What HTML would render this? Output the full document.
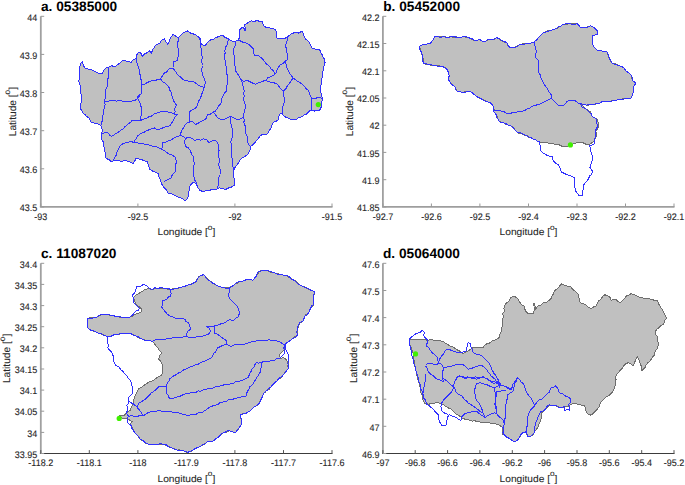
<!DOCTYPE html>
<html><head><meta charset="utf-8"><style>
html,body{margin:0;padding:0;background:#fff;width:685px;height:485px;overflow:hidden}
svg{display:block}
.t{font-family:"Liberation Sans",sans-serif;font-size:9.2px;text-rendering:geometricPrecision;fill:#262626;stroke:#262626;stroke-width:0.1px}
.l{font-family:"Liberation Sans",sans-serif;font-size:10.2px;text-rendering:geometricPrecision;fill:#262626;stroke:#262626;stroke-width:0.08px}
.ti{font-family:"Liberation Sans",sans-serif;font-size:13.7px;text-rendering:geometricPrecision;font-weight:bold;fill:#000}
</style></head><body>
<svg width="685" height="485" viewBox="0 0 685 485">
<rect width="685" height="485" fill="#fff"/>
<line x1="39.9" y1="206.9" x2="332.5" y2="206.9" stroke="#9e9e9e" stroke-width="1.8"/>
<line x1="40.8" y1="16.3" x2="40.8" y2="206.9" stroke="#a0a0a0" stroke-width="1.8"/>
<line x1="40.8" y1="206.9" x2="40.8" y2="203.5" stroke="#999" stroke-width="1"/>
<text transform="translate(40.8 219.8) scale(0.98 1.03)" text-anchor="middle" class="t">-93</text>
<line x1="137.9" y1="206.9" x2="137.9" y2="203.5" stroke="#999" stroke-width="1"/>
<text transform="translate(137.9 219.8) scale(0.98 1.03)" text-anchor="middle" class="t">-92.5</text>
<line x1="234.9" y1="206.9" x2="234.9" y2="203.5" stroke="#999" stroke-width="1"/>
<text transform="translate(234.9 219.8) scale(0.98 1.03)" text-anchor="middle" class="t">-92</text>
<line x1="332.0" y1="206.9" x2="332.0" y2="203.5" stroke="#999" stroke-width="1"/>
<text transform="translate(332.0 219.8) scale(0.98 1.03)" text-anchor="middle" class="t">-91.5</text>
<line x1="40.8" y1="206.9" x2="44.2" y2="206.9" stroke="#999" stroke-width="1"/>
<text transform="translate(37.2 211.1) scale(0.98 1.03)" text-anchor="end" class="t">43.5</text>
<line x1="40.8" y1="168.8" x2="44.2" y2="168.8" stroke="#999" stroke-width="1"/>
<text transform="translate(37.2 173.0) scale(0.98 1.03)" text-anchor="end" class="t">43.6</text>
<line x1="40.8" y1="130.7" x2="44.2" y2="130.7" stroke="#999" stroke-width="1"/>
<text transform="translate(37.2 134.9) scale(0.98 1.03)" text-anchor="end" class="t">43.7</text>
<line x1="40.8" y1="92.5" x2="44.2" y2="92.5" stroke="#999" stroke-width="1"/>
<text transform="translate(37.2 96.7) scale(0.98 1.03)" text-anchor="end" class="t">43.8</text>
<line x1="40.8" y1="54.4" x2="44.2" y2="54.4" stroke="#999" stroke-width="1"/>
<text transform="translate(37.2 58.6) scale(0.98 1.03)" text-anchor="end" class="t">43.9</text>
<line x1="40.8" y1="16.3" x2="44.2" y2="16.3" stroke="#999" stroke-width="1"/>
<text transform="translate(37.2 20.5) scale(0.98 1.03)" text-anchor="end" class="t">44</text>
<text x="41.0" y="11.0" class="ti">a. 05385000</text>
<text transform="translate(186.4 235.1) scale(1 0.95)" text-anchor="middle" class="l">Longitude [<tspan font-size="8.3" dy="-5.6">o</tspan><tspan dy="5.6">]</tspan></text>
<text transform="translate(15.5 111.6) rotate(-90)" text-anchor="middle" class="l">Latitude [<tspan font-size="8.3" dy="-5.4">o</tspan><tspan dy="5.4">]</tspan></text>
<polygon points="80.6,63.5 82.3,62.2 83.5,65.0 84.5,67.9 87.0,68.6 89.5,69.4 91.8,69.8 93.9,70.8 96.8,72.2 99.6,73.7 102.5,73.7 103.2,71.4 104.7,69.4 106.1,67.9 108.3,67.2 111.2,65.8 115.5,66.5 117.9,64.4 120.5,62.8 122.5,60.5 124.8,60.8 127.1,61.1 131.0,62.5 133.0,59.8 136.3,58.5 136.9,54.6 138.9,51.9 140.9,53.3 142.2,56.5 144.8,53.9 147.4,52.6 149.4,50.6 151.4,53.3 152.7,49.3 154.5,47.1 156.0,44.7 159.9,43.4 160.9,41.2 162.6,39.5 164.5,38.8 165.8,41.4 167.8,44.1 169.3,41.2 170.4,38.1 171.8,36.3 172.8,34.2 175.0,35.5 178.3,38.1 181.0,34.9 183.1,33.0 185.6,31.6 187.5,30.9 190.2,32.9 194.1,34.2 196.7,35.5 199.1,37.7 200.3,40.0 200.6,42.7 202.2,44.9 205.3,45.5 207.0,42.9 209.4,40.8 211.3,39.5 213.8,39.2 215.6,37.7 218.0,36.8 220.4,36.0 222.8,35.2 225.1,37.4 228.0,38.7 230.5,40.2 233.1,41.4 235.8,41.2 238.3,40.2 239.4,37.5 239.3,34.6 239.6,32.1 239.9,29.5 241.9,27.5 243.9,28.1 245.2,30.8 245.2,27.8 244.5,24.9 247.8,22.9 251.1,20.9 254.4,21.6 257.0,20.3 259.6,21.6 262.3,21.6 263.6,25.5 266.2,27.5 268.8,27.9 271.5,28.1 275.4,29.5 276.7,32.1 277.0,34.3 276.6,36.6 277.4,38.7 278.0,38.6 282.4,38.6 286.1,37.9 288.5,36.0 291.0,34.2 294.8,32.4 298.5,33.0 302.2,31.1 302.8,32.4 304.0,36.1 305.9,39.2 307.9,40.9 309.6,42.9 310.7,45.3 311.5,47.8 313.6,48.6 315.8,49.1 319.5,49.1 320.7,52.2 322.0,54.6 323.2,57.1 324.6,59.4 325.1,62.1 324.5,64.6 323.8,67.0 323.4,69.5 322.6,72.0 322.8,74.8 322.2,77.4 321.4,80.0 321.4,82.7 320.9,85.4 320.4,88.0 320.2,90.7 321.0,93.4 321.6,96.2 322.6,99.0 321.6,102.2 321.6,105.5 320.5,107.8 319.8,110.2 317.0,110.6 314.2,111.1 311.4,110.5 309.4,111.0 306.3,114.1 304.2,115.0 302.4,116.5 300.2,117.2 298.1,118.0 296.3,119.5 294.0,119.9 291.1,119.6 288.4,118.3 285.7,117.2 283.4,115.4 281.6,113.1 280.0,114.1 278.7,116.5 278.5,119.3 276.2,121.3 273.4,122.4 272.3,124.4 271.6,126.6 270.5,128.7 269.2,130.6 268.1,133.0 266.1,134.7 262.0,134.7 259.9,136.1 258.6,138.1 256.9,139.9 255.5,141.9 253.8,143.5 252.3,145.3 250.3,146.7 250.5,149.0 249.6,151.2 248.3,153.5 246.5,155.4 243.9,156.9 241.4,158.5 239.6,160.2 238.8,162.6 237.3,164.6 235.3,167.0 233.8,169.8 233.5,172.9 233.8,176.0 234.0,178.3 234.4,180.6 234.3,183.0 234.2,185.3 231.1,187.3 228.4,188.0 225.9,189.4 222.8,188.6 219.7,187.9 215.6,189.4 212.4,189.4 209.4,190.4 205.4,191.0 202.2,191.4 199.6,190.0 197.6,187.4 196.6,184.2 193.7,182.2 191.4,184.0 189.7,186.4 189.3,189.5 188.7,192.5 188.5,195.7 187.6,198.7 184.5,200.8 182.7,199.0 180.4,197.7 177.7,196.9 175.2,195.6 172.3,194.1 169.1,193.6 167.3,192.2 166.5,190.0 164.9,188.4 163.1,186.3 161.7,183.9 160.8,181.2 160.0,178.8 158.9,176.5 158.7,174.0 156.8,172.7 154.6,171.9 151.8,170.7 149.4,168.8 148.8,166.4 147.9,164.0 147.4,161.6 144.3,160.7 141.2,159.5 138.6,159.0 136.0,158.5 134.6,161.2 132.9,163.7 130.7,162.2 128.2,161.3 125.7,160.6 123.3,161.0 120.9,161.1 118.5,160.6 116.1,160.8 113.6,160.8 111.3,161.6 109.0,159.6 106.1,158.5 105.3,156.3 105.8,153.8 104.9,151.7 104.6,149.3 104.0,147.1 103.3,144.6 103.3,141.9 101.9,139.5 102.0,136.8 101.4,134.1 102.3,131.3 102.0,128.6 101.1,126.4 99.6,124.2 95.3,123.5 93.1,122.8 91.0,122.0 90.0,119.8 88.8,117.7 86.7,116.6 85.2,114.8 83.0,113.0 81.6,110.5 80.5,108.5 80.2,106.2 80.6,103.8 81.4,101.5 81.6,99.0 81.3,96.1 80.9,93.2 80.3,90.8 80.6,88.4 80.2,86.0 79.6,83.8 78.7,81.6 79.1,79.2 79.5,76.8 79.4,74.4 79.8,71.7 80.0,69.0 79.9,66.2 80.6,63.5" fill="#c0c0c0" stroke="#6e6e6e" stroke-width="1" shape-rendering="crispEdges"/>
<polygon points="80.6,63.5 82.3,62.2 83.5,65.0 84.5,67.9 87.0,68.6 89.5,69.4 91.8,69.8 93.9,70.8 96.8,72.2 99.6,73.7 102.5,73.7 103.2,71.4 104.7,69.4 106.1,67.9 108.3,67.2 111.2,65.8 115.5,66.5 117.9,64.4 120.5,62.8 122.5,60.5 124.8,60.8 127.1,61.1 131.0,62.5 133.0,59.8 136.3,58.5 136.9,54.6 138.9,51.9 140.9,53.3 142.2,56.5 144.8,53.9 147.4,52.6 149.4,50.6 151.4,53.3 152.7,49.3 154.5,47.1 156.0,44.7 159.9,43.4 160.9,41.2 162.6,39.5 164.5,38.8 165.8,41.4 167.8,44.1 169.3,41.2 170.4,38.1 171.8,36.3 172.8,34.2 175.0,35.5 178.3,38.1 181.0,34.9 183.1,33.0 185.6,31.6 187.5,30.9 190.2,32.9 194.1,34.2 196.7,35.5 199.1,37.7 200.3,40.0 200.6,42.7 202.2,44.9 205.3,45.5 207.0,42.9 209.4,40.8 211.3,39.5 213.8,39.2 215.6,37.7 218.0,36.8 220.4,36.0 222.8,35.2 225.1,37.4 228.0,38.7 230.5,40.2 233.1,41.4 235.8,41.2 238.3,40.2 239.4,37.5 239.3,34.6 239.6,32.1 239.9,29.5 241.9,27.5 243.9,28.1 245.2,30.8 245.2,27.8 244.5,24.9 247.8,22.9 251.1,20.9 254.4,21.6 257.0,20.3 259.6,21.6 262.3,21.6 263.6,25.5 266.2,27.5 268.8,27.9 271.5,28.1 275.4,29.5 276.7,32.1 277.0,34.3 276.6,36.6 277.4,38.7 278.0,38.6 282.4,38.6 286.1,37.9 288.5,36.0 291.0,34.2 294.8,32.4 298.5,33.0 302.2,31.1 302.8,32.4 304.0,36.1 305.9,39.2 307.9,40.9 309.6,42.9 310.7,45.3 311.5,47.8 313.6,48.6 315.8,49.1 319.5,49.1 320.7,52.2 322.0,54.6 323.2,57.1 324.6,59.4 325.1,62.1 324.5,64.6 323.8,67.0 323.4,69.5 322.6,72.0 322.8,74.8 322.2,77.4 321.4,80.0 321.4,82.7 320.9,85.4 320.4,88.0 320.2,90.7 321.0,93.4 321.6,96.2 322.6,99.0 321.6,102.2 321.6,105.5 320.5,107.8 319.8,110.2 317.0,110.6 314.2,111.1 311.4,110.5 309.4,111.0 306.3,114.1 304.2,115.0 302.4,116.5 300.2,117.2 298.1,118.0 296.3,119.5 294.0,119.9 291.1,119.6 288.4,118.3 285.7,117.2 283.4,115.4 281.6,113.1 280.0,114.1 278.7,116.5 278.5,119.3 276.2,121.3 273.4,122.4 272.3,124.4 271.6,126.6 270.5,128.7 269.2,130.6 268.1,133.0 266.1,134.7 262.0,134.7 259.9,136.1 258.6,138.1 256.9,139.9 255.5,141.9 253.8,143.5 252.3,145.3 250.3,146.7 250.5,149.0 249.6,151.2 248.3,153.5 246.5,155.4 243.9,156.9 241.4,158.5 239.6,160.2 238.8,162.6 237.3,164.6 235.3,167.0 233.8,169.8 233.5,172.9 233.8,176.0 234.0,178.3 234.4,180.6 234.3,183.0 234.2,185.3 231.1,187.3 228.4,188.0 225.9,189.4 222.8,188.6 219.7,187.9 215.6,189.4 212.4,189.4 209.4,190.4 205.4,191.0 202.2,191.4 199.6,190.0 197.6,187.4 196.6,184.2 193.7,182.2 191.4,184.0 189.7,186.4 189.3,189.5 188.7,192.5 188.5,195.7 187.6,198.7 184.5,200.8 182.7,199.0 180.4,197.7 177.7,196.9 175.2,195.6 172.3,194.1 169.1,193.6 167.3,192.2 166.5,190.0 164.9,188.4 163.1,186.3 161.7,183.9 160.8,181.2 160.0,178.8 158.9,176.5 158.7,174.0 156.8,172.7 154.6,171.9 151.8,170.7 149.4,168.8 148.8,166.4 147.9,164.0 147.4,161.6 144.3,160.7 141.2,159.5 138.6,159.0 136.0,158.5 134.6,161.2 132.9,163.7 130.7,162.2 128.2,161.3 125.7,160.6 123.3,161.0 120.9,161.1 118.5,160.6 116.1,160.8 113.6,160.8 111.3,161.6 109.0,159.6 106.1,158.5 105.3,156.3 105.8,153.8 104.9,151.7 104.6,149.3 104.0,147.1 103.3,144.6 103.3,141.9 101.9,139.5 102.0,136.8 101.4,134.1 102.3,131.3 102.0,128.6 101.1,126.4 99.6,124.2 95.3,123.5 93.1,122.8 91.0,122.0 90.0,119.8 88.8,117.7 86.7,116.6 85.2,114.8 83.0,113.0 81.6,110.5 80.5,108.5 80.2,106.2 80.6,103.8 81.4,101.5 81.6,99.0 81.3,96.1 80.9,93.2 80.3,90.8 80.6,88.4 80.2,86.0 79.6,83.8 78.7,81.6 79.1,79.2 79.5,76.8 79.4,74.4 79.8,71.7 80.0,69.0 79.9,66.2 80.6,63.5" fill="none" stroke="#3030ff" stroke-width="1" shape-rendering="crispEdges"/>
<polyline points="108.3,67.2 108.8,69.6 108.6,72.0 108.6,74.4 108.4,76.9 107.8,79.4 107.9,82.0 107.6,84.5 107.1,86.7 106.1,88.8 105.4,90.9 105.4,93.2 105.5,96.1 105.0,98.9 104.7,101.8 105.1,104.4 104.3,106.9 103.9,109.4 104.0,112.0 103.1,114.8 102.6,117.7 102.5,120.6 101.5,122.6 101.1,124.9" fill="none" stroke="#3030ff" stroke-width="1" shape-rendering="crispEdges"/>
<polyline points="104.7,101.8 108.3,101.8 109.7,100.4 113.0,100.4 116.1,101.1 119.3,100.8 121.6,100.9 123.8,101.2 126.0,102.0 129.0,101.2 132.1,101.1 135.2,100.2 137.7,98.3 138.1,95.9 139.5,94.0" fill="none" stroke="#3030ff" stroke-width="1" shape-rendering="crispEdges"/>
<polyline points="136.0,58.3 136.2,61.2 137.3,63.8 138.1,66.6 139.2,69.2 139.0,72.2 140.2,74.8 140.2,77.7 141.3,80.3 141.8,83.1 142.0,85.7 141.7,88.3 141.9,90.9 141.2,93.4 139.5,96.0 137.7,98.3 138.5,100.5 139.9,102.5 140.5,104.8 141.2,107.1 141.2,109.4 141.4,111.8 141.4,114.1 140.6,117.3 140.5,120.6" fill="none" stroke="#3030ff" stroke-width="1" shape-rendering="crispEdges"/>
<polyline points="141.5,85.2 144.1,84.5 146.4,83.1 149.3,81.5 152.5,80.6 155.2,80.3 157.9,79.7 160.6,79.1 161.7,77.0 163.0,75.0 164.4,73.1 166.7,72.1 167.9,70.0 169.7,68.5 173.0,68.0" fill="none" stroke="#3030ff" stroke-width="1" shape-rendering="crispEdges"/>
<polyline points="178.3,38.1 178.6,40.3 177.6,42.5 177.7,44.7 177.4,46.9 178.4,49.1 178.3,51.3 178.2,53.6 178.3,55.9 177.8,58.2 177.7,60.5 173.7,61.8 173.1,65.7 173.0,68.0" fill="none" stroke="#3030ff" stroke-width="1" shape-rendering="crispEdges"/>
<polyline points="173.0,68.0 174.5,70.1 176.0,72.2 177.1,74.5 178.9,76.0 180.8,77.3 182.4,79.0 184.5,80.1 186.8,80.5 189.1,81.5 191.5,81.4 193.8,82.0 195.7,83.2 197.5,84.6 199.4,85.7 201.7,86.6 204.0,87.5" fill="none" stroke="#3030ff" stroke-width="1" shape-rendering="crispEdges"/>
<polyline points="200.3,38.3 200.5,40.9 200.5,43.5 200.7,46.0 201.2,48.6 201.3,51.1 201.5,53.5 202.0,56.0 202.1,58.5 201.5,61.0 202.2,63.4 202.0,65.6 202.0,67.8 201.6,70.1 202.0,72.3 202.2,74.5 203.6,77.3 204.9,80.1 205.2,82.6 204.8,85.1 204.0,87.5 203.4,90.1 202.3,92.5 201.6,95.0 200.6,97.7 199.2,100.1 198.0,102.7 197.0,105.7 195.4,108.4 193.4,109.4 191.3,110.4 189.7,112.0 189.7,114.6 189.9,117.2 189.3,119.7 189.2,122.3 187.2,122.8 185.1,124.9 183.6,127.5 181.5,131.1 180.7,133.3 181.0,135.7 177.4,136.2 175.3,137.3 173.2,138.3 171.4,139.8 169.1,140.4 167.0,141.4 165.0,142.4 162.7,142.9 162.3,146.2 161.8,149.4" fill="none" stroke="#3030ff" stroke-width="1" shape-rendering="crispEdges"/>
<polyline points="160.6,79.1 162.0,81.0 163.8,82.5 165.9,83.7 167.4,85.5 169.1,87.6 169.7,90.2 171.3,92.3 171.7,95.0 172.7,97.5 173.2,100.2 174.8,102.7 176.3,104.8 175.8,106.9 174.8,108.4 175.1,111.3 174.3,114.1 177.4,114.1 175.3,116.6 174.3,118.7 173.2,120.8 171.7,123.1 170.2,125.4 167.7,126.4 165.0,127.0 162.7,127.9 160.4,129.0 158.1,129.9 154.4,128.0 151.9,128.5 149.6,129.6 147.3,130.5 145.1,131.7 142.2,133.0 139.5,134.5 137.5,136.0 136.6,138.4 134.9,140.1 134.9,142.9" fill="none" stroke="#3030ff" stroke-width="1" shape-rendering="crispEdges"/>
<polyline points="102.4,133.6 105.1,132.7 108.0,132.7 109.4,135.0 111.7,136.4 114.1,134.7 116.5,133.1 119.1,131.7 120.9,130.1 123.1,128.9 124.7,127.0 126.5,125.3 128.3,123.7 130.4,122.4 132.1,120.6 134.9,120.5 137.7,120.9 140.5,120.6 142.5,119.5 144.7,118.9 146.8,118.0 148.8,116.9 151.5,116.2 153.6,114.2 156.2,113.2 158.6,112.2 161.0,111.8 163.6,111.9 165.8,111.5 168.0,112.1 170.2,112.0 172.2,113.1 174.3,114.1" fill="none" stroke="#3030ff" stroke-width="1" shape-rendering="crispEdges"/>
<polyline points="113.6,160.5 114.2,158.1 115.9,156.0 116.5,153.6 117.3,151.2 118.7,149.1 119.7,146.8 121.0,144.7 123.7,143.5 126.4,142.4 129.3,141.9 132.2,141.9 134.9,142.9 137.7,143.0 140.4,143.8 143.2,143.8 145.6,144.9 148.3,144.5 150.7,145.7 153.1,146.4 155.7,146.7 158.1,147.5 161.8,149.4 164.5,150.5 166.7,152.5 169.2,154.0 172.1,155.2 174.8,156.8 175.9,159.3 176.4,162.0 175.8,164.4 175.5,166.9 175.3,169.4 175.2,171.9 173.4,173.5 172.0,175.4 171.1,177.7 169.1,179.1 166.2,180.2 163.9,182.2" fill="none" stroke="#3030ff" stroke-width="1" shape-rendering="crispEdges"/>
<polyline points="228.1,40.2 227.9,42.5 227.2,44.6 226.0,46.5 225.3,48.6 224.9,50.9 225.1,53.2 224.3,55.5 224.4,57.8 225.0,60.1 225.4,62.4 225.7,64.8 226.3,67.1 226.6,69.6 226.2,72.1 227.0,74.5 227.3,76.9 227.4,79.4 227.2,81.9 227.2,84.2 226.6,86.5 226.7,88.9 226.3,91.2 224.8,92.9 223.6,94.8 222.6,96.8 221.7,99.2 221.2,101.7 220.7,104.2 218.8,105.7 217.7,107.8 216.3,109.6 215.0,111.5 213.5,112.0 210.4,114.1 207.3,115.1 206.8,117.2 205.2,119.7 202.6,120.6 200.1,121.8 198.0,123.5 195.4,124.4 192.3,121.3 189.2,122.3" fill="none" stroke="#3030ff" stroke-width="1" shape-rendering="crispEdges"/>
<polyline points="213.5,112.5 215.6,114.9 217.2,117.6 221.1,119.6 223.6,119.3 226.0,118.6 229.9,116.6 232.5,117.2 234.8,118.6 238.7,119.6 241.0,118.3 243.6,117.6" fill="none" stroke="#3030ff" stroke-width="1" shape-rendering="crispEdges"/>
<polyline points="235.5,41.1 235.4,43.5 235.0,45.8 234.0,48.1 233.7,50.4 233.4,53.0 234.2,55.6 234.8,58.2 234.1,60.8 234.6,63.4 235.0,65.7 235.0,68.2 235.5,70.5 236.5,72.7 238.2,74.8 239.5,77.2 241.0,79.4 242.0,81.9 242.4,84.5 243.6,86.8 243.9,89.4 244.2,91.6 243.5,93.8 244.4,96.1 243.5,98.3 243.9,100.5 244.6,103.4 245.8,106.1 245.1,108.5 244.3,111.0 243.9,113.5 243.6,117.6 244.2,119.9 243.9,122.4 244.7,124.7 245.7,127.0 245.6,129.4 245.6,131.9 246.1,134.3 247.5,136.6 247.5,139.1 247.7,141.5 248.3,143.8 249.5,146.0" fill="none" stroke="#3030ff" stroke-width="1" shape-rendering="crispEdges"/>
<polyline points="229.9,116.6 230.3,119.3 230.5,122.1 231.3,124.7 231.9,127.4 232.3,129.6 232.4,131.8 232.8,134.0 232.8,136.2 231.4,139.0 230.9,142.1 231.2,144.6 231.4,147.2 231.2,149.7 231.6,152.2 231.3,154.8 231.9,157.1 232.1,159.4 232.6,161.8 232.2,164.2 232.8,166.5 233.8,169.8" fill="none" stroke="#3030ff" stroke-width="1" shape-rendering="crispEdges"/>
<polyline points="181.0,135.7 183.6,136.5 185.6,138.3 188.7,137.3 191.8,138.3 194.9,140.4 198.0,139.3 200.6,140.4 203.1,138.8 206.2,139.3 207.8,141.1 209.3,142.9 211.1,141.2 213.5,140.4 215.0,140.4 216.9,142.0 218.2,144.0 218.8,146.3 218.6,148.6 219.1,150.9 218.6,153.2 218.9,155.6 218.9,157.9 219.6,160.3 219.1,162.6 218.8,165.1 219.5,167.5 220.4,169.9 220.1,172.4 220.0,174.8 218.9,177.0 218.2,179.3 218.4,181.8 218.5,184.2 217.7,186.7 218.2,189.1" fill="none" stroke="#3030ff" stroke-width="1" shape-rendering="crispEdges"/>
<polyline points="185.6,138.3 184.6,141.4 185.1,145.0 186.3,147.0 188.5,148.0 189.8,149.9 190.9,152.3 191.9,154.8 193.7,156.8 193.2,159.1 194.0,161.5 194.2,163.8 193.7,166.2 193.7,168.5 194.0,170.8 193.9,173.2 193.8,175.6 194.3,177.9 194.7,180.2 196.1,182.0 196.6,184.2" fill="none" stroke="#3030ff" stroke-width="1" shape-rendering="crispEdges"/>
<polyline points="240.0,79.5 243.7,81.4 247.4,80.5 251.1,82.3 253.4,83.4 255.8,84.2 258.0,83.1 260.4,82.3 263.1,81.1 266.0,80.5 267.8,77.7 270.5,76.8 273.0,75.6 275.3,74.0" fill="none" stroke="#3030ff" stroke-width="1" shape-rendering="crispEdges"/>
<polyline points="238.8,39.8 240.8,41.3 243.0,42.2 245.5,42.7 247.6,43.9 249.8,45.1 251.4,47.0 253.2,48.6 253.8,51.8 254.1,55.0 256.4,55.5 258.7,56.0 260.8,57.3 262.6,59.0 264.1,61.0 265.6,63.2 267.6,64.9 269.7,66.5 270.8,68.6 272.7,70.1 274.0,72.1 275.3,74.0" fill="none" stroke="#3030ff" stroke-width="1" shape-rendering="crispEdges"/>
<polyline points="275.3,74.0 276.6,71.5 277.2,68.7 279.0,66.5 280.6,64.6 282.8,63.6 284.5,61.9 287.3,59.6 287.9,55.9 286.7,52.2 286.5,49.0 285.5,46.0 286.7,42.3 287.2,39.8 287.9,37.3 288.5,36.0" fill="none" stroke="#3030ff" stroke-width="1" shape-rendering="crispEdges"/>
<polyline points="266.0,80.5 268.6,81.8 271.5,82.3 274.4,82.9 277.1,84.2 278.7,85.9 279.9,87.9 281.4,89.8 283.6,90.7 285.9,88.7 287.3,86.0 288.8,84.0 290.4,82.0 291.8,80.0 292.9,77.7 291.6,75.8 290.1,74.0 288.4,71.3 287.3,68.4 286.2,66.4 286.0,64.1 285.5,61.9" fill="none" stroke="#3030ff" stroke-width="1" shape-rendering="crispEdges"/>
<polyline points="292.9,77.7 294.9,79.4 297.1,81.0 299.4,82.3 301.5,83.6 303.2,85.4 305.0,87.0 306.5,89.2 308.7,90.7 309.3,93.3 310.4,95.7 311.4,98.1 311.4,99.0" fill="none" stroke="#3030ff" stroke-width="1" shape-rendering="crispEdges"/>
<polyline points="283.6,90.7 283.3,93.0 283.6,95.4 284.1,97.7 284.0,100.0 284.3,102.4 283.3,104.6 282.9,106.9 283.0,109.2 282.6,111.6 281.8,114.0" fill="none" stroke="#3030ff" stroke-width="1" shape-rendering="crispEdges"/>
<polyline points="311.4,99.0 311.0,101.2 311.5,103.5 311.9,105.7 311.5,108.0 311.4,110.2 314.2,111.1 316.9,110.3 319.8,110.2 321.2,108.0 321.6,105.5 321.7,102.2 322.6,99.0 319.8,97.2 316.1,98.1 313.7,98.3 311.4,99.0" fill="none" stroke="#3030ff" stroke-width="1" shape-rendering="crispEdges"/>
<circle cx="318.3" cy="104.6" r="2.6" fill="#40f000"/>
<line x1="382.0" y1="206.9" x2="674.5" y2="206.9" stroke="#9e9e9e" stroke-width="1.8"/>
<line x1="382.9" y1="16.3" x2="382.9" y2="206.9" stroke="#a0a0a0" stroke-width="1.8"/>
<line x1="382.9" y1="206.9" x2="382.9" y2="203.5" stroke="#999" stroke-width="1"/>
<text transform="translate(382.9 219.8) scale(0.98 1.03)" text-anchor="middle" class="t">-92.7</text>
<line x1="431.4" y1="206.9" x2="431.4" y2="203.5" stroke="#999" stroke-width="1"/>
<text transform="translate(431.4 219.8) scale(0.98 1.03)" text-anchor="middle" class="t">-92.6</text>
<line x1="479.9" y1="206.9" x2="479.9" y2="203.5" stroke="#999" stroke-width="1"/>
<text transform="translate(479.9 219.8) scale(0.98 1.03)" text-anchor="middle" class="t">-92.5</text>
<line x1="528.5" y1="206.9" x2="528.5" y2="203.5" stroke="#999" stroke-width="1"/>
<text transform="translate(528.5 219.8) scale(0.98 1.03)" text-anchor="middle" class="t">-92.4</text>
<line x1="577.0" y1="206.9" x2="577.0" y2="203.5" stroke="#999" stroke-width="1"/>
<text transform="translate(577.0 219.8) scale(0.98 1.03)" text-anchor="middle" class="t">-92.3</text>
<line x1="625.5" y1="206.9" x2="625.5" y2="203.5" stroke="#999" stroke-width="1"/>
<text transform="translate(625.5 219.8) scale(0.98 1.03)" text-anchor="middle" class="t">-92.2</text>
<line x1="674.0" y1="206.9" x2="674.0" y2="203.5" stroke="#999" stroke-width="1"/>
<text transform="translate(674.0 219.8) scale(0.98 1.03)" text-anchor="middle" class="t">-92.1</text>
<line x1="382.9" y1="206.9" x2="386.3" y2="206.9" stroke="#999" stroke-width="1"/>
<text transform="translate(379.5 211.1) scale(0.98 1.03)" text-anchor="end" class="t">41.85</text>
<line x1="382.9" y1="179.7" x2="386.3" y2="179.7" stroke="#999" stroke-width="1"/>
<text transform="translate(379.5 183.9) scale(0.98 1.03)" text-anchor="end" class="t">41.9</text>
<line x1="382.9" y1="152.4" x2="386.3" y2="152.4" stroke="#999" stroke-width="1"/>
<text transform="translate(379.5 156.6) scale(0.98 1.03)" text-anchor="end" class="t">41.95</text>
<line x1="382.9" y1="125.2" x2="386.3" y2="125.2" stroke="#999" stroke-width="1"/>
<text transform="translate(379.5 129.4) scale(0.98 1.03)" text-anchor="end" class="t">42</text>
<line x1="382.9" y1="98.0" x2="386.3" y2="98.0" stroke="#999" stroke-width="1"/>
<text transform="translate(379.5 102.2) scale(0.98 1.03)" text-anchor="end" class="t">42.05</text>
<line x1="382.9" y1="70.8" x2="386.3" y2="70.8" stroke="#999" stroke-width="1"/>
<text transform="translate(379.5 75.0) scale(0.98 1.03)" text-anchor="end" class="t">42.1</text>
<line x1="382.9" y1="43.5" x2="386.3" y2="43.5" stroke="#999" stroke-width="1"/>
<text transform="translate(379.5 47.7) scale(0.98 1.03)" text-anchor="end" class="t">42.15</text>
<line x1="382.9" y1="16.3" x2="386.3" y2="16.3" stroke="#999" stroke-width="1"/>
<text transform="translate(379.5 20.5) scale(0.98 1.03)" text-anchor="end" class="t">42.2</text>
<text x="383.2" y="11.0" class="ti">b. 05452000</text>
<text transform="translate(528.5 235.1) scale(1 0.95)" text-anchor="middle" class="l">Longitude [<tspan font-size="8.3" dy="-5.6">o</tspan><tspan dy="5.6">]</tspan></text>
<text transform="translate(352.8 111.6) rotate(-90)" text-anchor="middle" class="l">Latitude [<tspan font-size="8.3" dy="-5.4">o</tspan><tspan dy="5.4">]</tspan></text>
<polygon points="419.3,46.4 422.4,44.9 425.0,44.4 427.5,43.9 429.8,43.3 431.7,41.8 433.3,39.3 434.8,36.7 437.5,37.0 440.3,36.4 443.0,36.7 445.8,37.0 448.5,37.1 451.3,36.7 454.0,37.6 456.8,36.9 459.5,37.7 463.7,36.7 466.7,37.6 469.8,38.1 472.3,39.6 475.0,40.8 477.6,40.1 480.2,39.8 483.3,41.8 486.1,41.0 488.4,39.3 492.5,39.8 494.8,39.1 496.7,37.7 499.3,39.2 501.8,40.8 504.2,42.3 507.0,42.9 508.1,45.7 510.1,48.0 514.2,47.6 516.9,46.4 519.4,44.9 522.4,44.0 525.6,43.9 528.7,43.7 531.7,42.9 534.1,41.8 536.5,40.1 538.2,37.7 540.3,35.6 542.4,33.5 544.4,32.5 547.3,31.0 550.6,30.4 553.8,29.6 556.8,28.4 559.0,27.2 561.2,26.1 563.0,24.3 566.1,24.5 569.1,23.7 571.9,23.1 574.6,23.3 577.4,23.7 578.7,25.8 580.5,27.4 583.0,27.7 585.6,27.4 588.2,26.6 590.8,25.7 593.9,27.4 597.0,30.4 597.0,34.6 592.8,35.6 592.5,38.1 592.2,40.7 592.5,43.9 593.9,46.9 596.9,50.0 599.5,50.6 602.1,51.0 604.7,51.4 607.2,52.1 608.1,55.3 609.3,58.3 610.6,61.0 612.4,63.4 615.7,63.9 618.6,65.5 621.1,66.7 623.7,67.5 624.8,69.9 626.8,71.6 629.0,72.9 630.9,74.7 631.5,78.0 633.0,80.9 636.1,83.0 634.0,86.1 633.1,88.4 633.9,91.0 633.0,93.3 632.1,95.9 630.9,98.4 626.8,98.4 623.7,98.6 620.6,99.4 617.5,99.8 614.4,100.5 611.3,101.0 608.3,101.5 605.2,101.3 602.1,101.5 600.2,102.8 598.0,103.6 594.9,104.2 591.8,104.6 589.1,105.0 586.3,105.0 583.6,104.6 580.5,103.6 582.1,104.3 583.4,106.5 585.2,108.4 587.7,110.2 590.4,111.5 591.0,114.3 592.5,116.7 595.1,118.2 597.6,119.8 598.3,122.9 598.7,126.0 597.5,128.8 595.6,131.1 596.5,133.6 596.6,136.3 595.2,138.7 594.5,141.4 591.8,142.8 589.4,144.5 586.2,144.3 583.2,142.9 580.1,142.1 577.0,142.5 574.0,143.9 570.8,144.5 567.9,146.0 564.6,146.6 561.4,146.0 558.4,144.5 555.2,144.4 552.2,143.5 549.1,143.3 546.0,142.5 542.9,142.3 539.8,142.0 537.7,141.3 535.9,139.9 533.7,139.4 531.8,137.9 529.3,137.7 527.7,135.9 525.4,135.2 523.2,134.7 521.3,133.4 519.0,133.3 517.1,132.1 515.2,130.0 513.3,127.7 511.0,126.0 508.6,125.4 506.4,124.5 504.3,123.1 502.0,122.2 499.6,121.8 498.5,119.8 497.6,117.6 496.5,115.6 495.2,113.4 493.4,111.5 494.1,109.2 493.6,106.8 491.5,103.7 489.4,102.7 487.4,101.7 485.0,100.3 482.2,99.6 480.2,98.4 478.1,97.5 476.1,95.9 474.0,94.4 472.0,92.7 469.8,91.4 467.4,91.5 464.9,91.5 462.6,92.4 459.5,91.5 456.4,90.9 455.7,88.4 454.4,86.2 451.3,84.1 449.9,81.5 448.2,79.0 449.2,75.9 448.6,72.6 447.1,69.7 445.4,67.7 443.0,66.6 440.3,66.0 437.6,65.8 434.8,65.6 431.6,65.4 428.6,64.5 426.0,64.2 423.4,63.5 423.4,60.4 422.8,57.3 422.0,54.7 421.3,52.1 420.6,49.1 419.3,46.4" fill="#c0c0c0" stroke="#6e6e6e" stroke-width="1" shape-rendering="crispEdges"/>
<polyline points="539.8,142.0 537.7,141.4 535.9,139.9 533.7,139.4 531.7,138.1 529.6,137.3 527.5,136.2 525.4,135.2 523.4,134.3 521.4,133.2 519.3,132.5 517.1,132.1 515.1,130.1 513.3,127.8 511.0,126.0 508.6,125.5 506.5,124.0 504.3,123.2 502.0,122.4 499.6,121.8 498.4,119.8 497.0,117.9 496.5,115.6 495.4,113.2 493.4,111.5 493.7,109.2 493.6,106.8 491.5,103.7 489.6,102.5 487.4,101.7 484.7,100.9 482.2,99.6 480.3,98.2 478.1,97.5 476.0,96.0 474.0,94.4 472.2,92.5 469.8,91.4 467.4,91.5 465.1,92.5 462.6,92.4 459.5,91.5 456.4,90.9 455.6,88.5 454.4,86.2 451.3,84.1 449.6,81.7 448.2,79.0 449.2,75.9 448.6,72.7 447.1,69.7 445.2,68.0 443.0,66.6 440.3,66.2 437.5,66.2 434.8,65.6 431.7,65.0 428.6,64.5 426.1,63.7 423.4,63.5 422.8,60.4 422.8,57.3 422.3,54.6 421.3,52.1 419.8,49.4 419.3,46.4 422.4,44.9 425.0,44.8 427.5,43.9 429.9,43.4 431.7,41.8 433.3,39.3 434.8,36.7 437.5,36.4 440.3,37.3 443.0,36.7 445.8,37.2 448.5,37.3 451.3,36.7 454.1,36.5 456.8,37.5 459.5,37.7 463.7,36.7 466.8,37.0 469.8,38.1 472.6,39.0 475.0,40.8 477.6,40.1 480.2,39.8 483.3,41.8 486.0,40.9 488.4,39.3 492.5,39.8 494.6,38.7 496.7,37.7 499.5,38.8 501.8,40.8 504.5,41.5 507.0,42.9 508.3,45.6 510.1,48.0 514.2,47.6 517.0,46.6 519.4,44.9 522.5,44.5 525.6,43.9 528.7,43.4 531.7,42.9 534.1,41.8 536.5,40.1 538.2,37.7 540.5,35.8 542.4,33.5 544.4,32.5 547.5,31.4 550.6,30.4 553.7,29.3 556.8,28.4 558.6,26.6 561.2,26.1 563.0,24.3 566.0,23.8 569.1,23.7 571.9,24.2 574.6,24.3 577.4,23.7 579.1,25.4 580.5,27.4 583.0,27.0 585.6,27.4 588.3,27.0 590.8,25.7 593.9,27.4 597.0,30.4 597.0,34.6 592.8,35.6 592.5,38.2 592.2,40.7 592.6,43.9 593.9,46.9 596.9,50.0 599.5,50.3 602.1,51.0 604.6,51.7 607.2,52.1 608.6,55.1 609.3,58.3 610.9,60.8 612.4,63.4 615.5,64.4 618.6,65.5 621.1,66.5 623.7,67.5 625.1,69.7 626.8,71.6 629.1,72.9 630.9,74.7 632.4,77.7 633.0,80.9 636.1,83.0 634.0,86.1 633.7,88.5 633.2,90.9 633.0,93.3 632.1,95.9 630.9,98.4 626.8,98.4 623.7,99.0 620.6,99.4 617.5,99.8 614.4,100.5 611.4,101.1 608.3,101.5 605.2,101.1 602.1,101.5 600.2,102.9 598.0,103.6 594.9,104.1 591.8,104.6 589.1,104.6 586.3,105.1 583.6,104.6 580.5,103.6 581.5,106.7 583.6,107.7 585.6,108.7 588.7,111.8 591.0,113.5 592.5,116.7 594.8,117.9 596.6,119.8 596.7,123.0 597.6,126.0 596.6,128.7 595.0,131.1 595.1,133.7 595.6,136.3 594.6,138.8 594.5,141.4 594.5,143.5" fill="none" stroke="#3030ff" stroke-width="1" shape-rendering="crispEdges"/>
<polyline points="539.8,142.0 540.0,144.9 540.3,147.8 540.9,150.7 543.2,153.1 546.0,154.8 549.1,156.0 552.2,156.9 553.3,161.0 555.6,163.2 558.3,164.6 559.7,166.8 560.2,169.3 561.6,172.1 564.2,173.3 566.7,174.8 569.5,175.3 571.9,176.7 574.6,177.6 574.5,180.9 574.9,184.1 574.9,186.9 575.2,189.7 576.1,191.7 577.6,193.5 578.8,195.3 582.5,195.3 582.4,192.9 582.9,190.6 583.7,187.9 583.4,185.0 585.0,183.2 586.6,181.4 588.0,179.5 589.9,175.8 591.8,174.0 592.7,171.6 591.5,169.6 589.9,167.9 590.8,164.6 591.4,163.1 592.2,160.8 592.7,158.4 592.5,155.9 591.4,153.3 590.4,150.7 590.4,148.1 589.4,145.6 592.2,145.1 594.5,143.5" fill="none" stroke="#3030ff" stroke-width="1" shape-rendering="crispEdges"/>
<polyline points="534.1,41.8 535.1,45.9 535.9,48.9 536.2,52.1 535.1,56.2 536.3,58.5 538.2,60.3 538.4,62.8 538.0,65.3 538.9,67.7 538.4,70.2 538.7,72.7 540.1,74.5 540.5,76.8 541.2,79.0 542.4,80.9 543.5,83.1 544.8,85.2 546.3,87.1 547.5,89.2 548.5,91.5 550.3,93.2 551.6,95.3 551.6,98.4" fill="none" stroke="#3030ff" stroke-width="1" shape-rendering="crispEdges"/>
<polyline points="493.6,110.0 496.0,110.5 498.4,110.5 500.8,111.0 503.7,111.5 506.2,113.1 509.0,114.0 511.7,112.9 514.5,112.7 517.3,112.0 520.1,111.5 522.9,111.0 525.6,110.0 527.4,108.5 529.9,108.4 531.5,106.4 533.8,105.8 536.5,105.0 539.3,104.5 541.9,103.3 544.2,101.8 546.6,100.6 549.1,99.4 551.6,98.4" fill="none" stroke="#3030ff" stroke-width="1" shape-rendering="crispEdges"/>
<polyline points="551.6,98.4 554.7,101.5 556.6,103.7 558.8,105.6 563.0,105.6 565.5,103.7 567.1,101.1 569.5,100.9 571.9,100.5 574.3,100.5 576.4,101.4 578.2,103.0 580.5,103.6" fill="none" stroke="#3030ff" stroke-width="1" shape-rendering="crispEdges"/>
<circle cx="570.4" cy="144.9" r="2.6" fill="#40f000"/>
<line x1="39.9" y1="453.5" x2="332.5" y2="453.5" stroke="#3c3c3c" stroke-width="1"/>
<line x1="40.8" y1="263.3" x2="40.8" y2="453.5" stroke="#a0a0a0" stroke-width="1.8"/>
<line x1="40.8" y1="453.5" x2="40.8" y2="450.1" stroke="#555" stroke-width="1"/>
<text transform="translate(40.8 466.4) scale(0.98 1.03)" text-anchor="middle" class="t">-118.2</text>
<line x1="89.3" y1="453.5" x2="89.3" y2="450.1" stroke="#555" stroke-width="1"/>
<text transform="translate(89.3 466.4) scale(0.98 1.03)" text-anchor="middle" class="t">-118.1</text>
<line x1="137.9" y1="453.5" x2="137.9" y2="450.1" stroke="#555" stroke-width="1"/>
<text transform="translate(137.9 466.4) scale(0.98 1.03)" text-anchor="middle" class="t">-118</text>
<line x1="186.4" y1="453.5" x2="186.4" y2="450.1" stroke="#555" stroke-width="1"/>
<text transform="translate(186.4 466.4) scale(0.98 1.03)" text-anchor="middle" class="t">-117.9</text>
<line x1="234.9" y1="453.5" x2="234.9" y2="450.1" stroke="#555" stroke-width="1"/>
<text transform="translate(234.9 466.4) scale(0.98 1.03)" text-anchor="middle" class="t">-117.8</text>
<line x1="283.5" y1="453.5" x2="283.5" y2="450.1" stroke="#555" stroke-width="1"/>
<text transform="translate(283.5 466.4) scale(0.98 1.03)" text-anchor="middle" class="t">-117.7</text>
<line x1="332.0" y1="453.5" x2="332.0" y2="450.1" stroke="#555" stroke-width="1"/>
<text transform="translate(332.0 466.4) scale(0.98 1.03)" text-anchor="middle" class="t">-117.6</text>
<line x1="40.8" y1="453.5" x2="44.2" y2="453.5" stroke="#999" stroke-width="1"/>
<text transform="translate(37.2 457.7) scale(0.98 1.03)" text-anchor="end" class="t">33.95</text>
<line x1="40.8" y1="432.4" x2="44.2" y2="432.4" stroke="#999" stroke-width="1"/>
<text transform="translate(37.2 436.6) scale(0.98 1.03)" text-anchor="end" class="t">34</text>
<line x1="40.8" y1="411.2" x2="44.2" y2="411.2" stroke="#999" stroke-width="1"/>
<text transform="translate(37.2 415.4) scale(0.98 1.03)" text-anchor="end" class="t">34.05</text>
<line x1="40.8" y1="390.1" x2="44.2" y2="390.1" stroke="#999" stroke-width="1"/>
<text transform="translate(37.2 394.3) scale(0.98 1.03)" text-anchor="end" class="t">34.1</text>
<line x1="40.8" y1="369.0" x2="44.2" y2="369.0" stroke="#999" stroke-width="1"/>
<text transform="translate(37.2 373.2) scale(0.98 1.03)" text-anchor="end" class="t">34.15</text>
<line x1="40.8" y1="347.8" x2="44.2" y2="347.8" stroke="#999" stroke-width="1"/>
<text transform="translate(37.2 352.0) scale(0.98 1.03)" text-anchor="end" class="t">34.2</text>
<line x1="40.8" y1="326.7" x2="44.2" y2="326.7" stroke="#999" stroke-width="1"/>
<text transform="translate(37.2 330.9) scale(0.98 1.03)" text-anchor="end" class="t">34.25</text>
<line x1="40.8" y1="305.6" x2="44.2" y2="305.6" stroke="#999" stroke-width="1"/>
<text transform="translate(37.2 309.8) scale(0.98 1.03)" text-anchor="end" class="t">34.3</text>
<line x1="40.8" y1="284.4" x2="44.2" y2="284.4" stroke="#999" stroke-width="1"/>
<text transform="translate(37.2 288.6) scale(0.98 1.03)" text-anchor="end" class="t">34.35</text>
<line x1="40.8" y1="263.3" x2="44.2" y2="263.3" stroke="#999" stroke-width="1"/>
<text transform="translate(37.2 267.5) scale(0.98 1.03)" text-anchor="end" class="t">34.4</text>
<text x="41.0" y="257.7" class="ti">c. 11087020</text>
<text transform="translate(186.4 481.7) scale(1 0.95)" text-anchor="middle" class="l">Longitude [<tspan font-size="8.3" dy="-5.6">o</tspan><tspan dy="5.6">]</tspan></text>
<text transform="translate(10.2 358.4) rotate(-90)" text-anchor="middle" class="l">Latitude [<tspan font-size="8.3" dy="-5.4">o</tspan><tspan dy="5.4">]</tspan></text>
<polygon points="87.4,318.2 89.7,317.9 92.1,318.0 94.4,317.7 96.7,317.3 99.0,315.8 101.3,314.5 104.5,314.1 107.8,314.5 110.2,315.4 112.9,315.3 115.3,316.4 117.8,316.1 120.2,317.4 122.7,317.3 125.0,317.9 127.2,317.9 129.5,317.3 131.9,316.3 134.1,315.0 136.2,313.8 138.6,313.2 141.8,311.8 141.3,308.6 139.5,306.8 136.8,305.0 135.0,302.3 134.5,300.0 133.2,297.8 135.0,295.9 137.7,294.1 141.3,291.9 144.9,289.6 148.6,288.7 152.2,289.6 155.0,288.8 157.9,288.2 160.4,288.6 162.8,288.9 165.3,288.6 168.1,289.3 170.9,289.5 173.6,288.7 176.5,288.6 179.0,288.1 181.4,287.2 183.9,286.7 186.9,285.4 190.0,284.6 191.9,283.1 194.4,283.0 196.2,281.5 197.3,278.6 199.3,276.3 201.6,275.7 203.4,274.3 205.3,276.1 206.5,278.4 208.7,279.7 210.6,281.5 212.8,282.7 214.7,284.3 216.8,285.6 219.9,286.5 223.0,287.7 226.1,287.5 229.2,288.1 230.9,286.3 233.3,285.6 235.1,283.8 237.6,283.1 239.5,281.5 242.7,281.1 245.7,279.9 248.3,279.6 250.9,279.4 252.9,280.5 255.0,277.4 256.3,275.3 258.1,273.5 259.1,271.2 261.8,270.5 264.6,270.9 267.4,270.6 269.7,271.8 272.1,272.5 274.6,272.8 277.7,273.8 280.8,274.3 283.8,275.3 287.0,275.3 288.8,277.2 291.2,278.3 293.2,279.9 295.6,281.0 297.4,282.9 299.4,284.6 301.3,285.9 303.7,286.3 305.6,287.7 307.7,288.7 309.7,289.8 312.3,290.8 314.8,291.8 314.1,294.9 313.4,298.0 313.5,301.1 313.8,304.2 312.5,306.5 310.7,308.3 309.7,310.4 308.7,312.5 306.3,314.3 304.5,316.6 303.5,320.7 301.6,322.1 299.4,322.8 298.8,326.0 297.3,329.0 297.8,332.1 297.3,335.2 295.1,336.6 293.2,338.3 290.7,340.0 288.7,341.4 286.9,343.0 285.0,344.5 284.7,347.4 283.9,350.2 281.5,352.3 279.4,354.7 280.5,358.1 282.8,357.9 285.0,358.1 287.3,361.5 288.1,363.7 287.9,366.1 288.5,368.4 287.0,370.3 285.3,372.0 283.9,374.0 282.2,375.7 280.8,377.7 278.9,379.2 277.1,380.8 275.5,382.6 273.7,384.2 272.1,386.0 270.3,387.6 269.0,389.5 266.7,390.2 265.5,392.2 263.5,393.3 262.7,396.3 261.2,399.0 260.0,401.2 259.0,403.5 257.0,405.6 254.4,406.9 252.1,409.1 249.9,411.4 247.5,412.3 245.4,413.7 243.0,413.7 240.8,414.8 240.6,417.1 241.0,419.4 241.1,421.7 242.0,423.9 240.0,426.0 238.6,428.5 237.2,431.0 235.2,433.0 232.4,431.8 229.5,430.7 227.4,432.0 225.1,432.7 222.7,433.0 221.3,434.8 219.3,436.0 217.6,437.5 215.5,438.9 213.6,440.5 211.4,441.7 208.8,441.2 206.5,442.4 204.5,444.0 202.3,445.3 200.0,446.5 197.6,447.6 195.3,448.8 193.0,450.2 190.6,451.8 187.8,452.2 184.3,451.0 182.0,450.4 179.7,449.9 177.3,450.1 175.0,449.1 172.6,448.3 170.3,447.4 168.3,446.1 166.0,445.5 164.1,444.0 161.7,444.2 159.3,444.5 156.9,445.0 154.5,444.8 152.2,444.4 149.8,444.4 147.5,444.0 145.0,442.8 143.0,440.8 140.5,439.5 138.9,437.3 137.1,435.2 135.3,433.2 134.0,431.4 132.7,428.8 131.7,426.0 130.2,423.9 132.4,421.7 128.8,419.5 127.3,418.5 124.8,418.5 122.3,418.1 120.1,415.8 124.4,415.2 126.6,413.1 128.3,411.6 130.2,410.2 131.5,407.2 133.1,404.4 133.8,402.1 133.7,399.7 134.8,397.5 135.1,395.2 136.6,393.4 137.5,391.2 138.2,389.0 140.8,387.6 143.3,386.0 145.2,384.3 147.3,383.1 149.5,381.8 151.8,381.2 153.8,380.1 155.7,378.7 157.6,377.1 160.0,376.2 161.9,374.6 162.2,372.0 162.9,369.4 162.3,366.4 161.9,363.3 160.5,361.1 158.8,359.1 159.8,355.0 161.6,353.5 160.7,351.4 159.0,349.9 157.9,347.9 155.9,345.7 154.2,343.3 152.4,341.4 150.1,340.8 147.8,340.4 145.4,340.0 143.1,339.6 140.6,338.5 138.0,337.5 135.7,335.9 133.4,334.5 130.7,334.0 128.2,333.1 126.0,333.3 123.8,333.7 121.5,333.3 119.4,334.3 117.1,334.0 114.6,334.2 112.5,335.4 110.2,336.4 107.8,336.8 105.5,335.8 103.4,334.5 100.9,334.1 98.6,333.1 96.1,332.2 93.6,331.2 91.1,330.3 89.0,329.2 87.4,327.5 87.5,325.2 87.0,322.9 87.4,320.5 87.4,318.2" fill="#c0c0c0" stroke="#6e6e6e" stroke-width="1" shape-rendering="crispEdges"/>
<polyline points="152.4,341.4 150.1,340.6 147.8,340.1 145.3,340.5 143.1,339.6 140.6,338.5 138.3,336.8 135.7,335.9 133.2,335.1 130.9,333.5 128.2,333.1 126.0,333.5 123.8,333.9 121.5,333.4 119.3,334.0 117.1,334.0 114.7,334.5 112.5,335.5 110.3,336.7 107.8,336.8 105.5,335.9 103.1,335.1 101.1,333.5 98.6,333.1 96.1,332.2 93.7,331.0 91.1,330.3 89.1,329.1 87.4,327.5 87.3,325.2 87.3,322.9 87.8,320.5 87.4,318.2 89.7,318.0 92.1,318.2 94.4,317.6 96.7,317.3 98.8,315.6 101.3,314.5 104.5,314.1 107.8,314.5 110.3,315.2 112.9,315.3 115.3,316.4 117.8,316.5 120.3,316.8 122.7,317.3 125.0,317.4 127.2,317.1 129.5,317.3 132.0,315.4 134.1,313.2 135.6,311.2 138.1,310.3 139.5,308.2 136.8,305.9 134.1,303.2 133.6,301.0 133.6,298.7 132.3,295.5 135.0,292.3 135.9,289.7 136.3,286.9 138.6,286.3 140.9,286.0 144.0,284.2 146.8,286.0 149.0,288.2 152.2,289.6 154.9,287.8 157.9,288.2 160.4,287.9 162.9,288.0 165.3,288.6 168.2,288.5 170.9,289.5 173.7,289.1 176.5,288.6 178.8,287.5 181.4,287.1 183.9,286.7 186.9,285.4 190.0,284.6 192.3,284.0 194.2,282.6 196.2,281.5 197.6,278.8 199.3,276.3 201.5,275.7 203.4,274.3 205.1,276.2 206.5,278.4 208.3,280.3 210.6,281.5 212.5,283.1 215.0,283.8 216.8,285.6 219.9,286.8 223.0,287.7 226.1,288.2 229.2,288.1 231.2,286.8 233.3,285.6 235.1,283.9 237.1,282.4 239.5,281.5 242.7,281.2 245.7,279.9 248.3,280.0 250.9,279.4 252.9,280.5 255.0,277.4 256.8,275.6 257.3,273.0 259.1,271.2 261.9,270.9 264.6,270.8 267.4,270.6 269.9,271.2 272.2,272.1 274.6,272.8 277.6,274.1 280.8,274.3 283.8,275.2 287.0,275.3 289.3,276.6 290.8,278.8 293.2,279.9 295.3,281.4 297.1,283.3 299.4,284.6 301.4,285.8 303.5,286.7 305.6,287.7 307.9,288.2 309.7,289.8 312.3,290.5 314.8,291.8 313.8,294.8 313.4,298.0 313.3,301.1 313.8,304.2 311.8,305.9 310.7,308.3 309.6,310.4 308.7,312.5 306.9,314.9 304.5,316.6 303.5,320.7 301.5,321.9 299.4,322.8 298.1,325.8 297.3,329.0 296.8,332.1 297.3,335.2 295.6,337.2 293.2,338.3 290.7,340.0 288.9,341.6 286.8,342.9 285.0,344.5 285.2,346.8 285.5,349.0 287.5,352.5 288.2,354.7 288.2,357.0 288.6,359.2 288.3,361.5 287.9,363.8 288.8,366.1 288.5,368.4 287.0,370.3 285.5,372.2 283.9,374.0 282.5,376.0 280.3,377.2 278.6,378.9 277.1,380.8 275.1,382.2 273.6,384.1 271.8,385.7 270.3,387.6 268.3,388.6 266.9,390.5 265.1,391.8 263.5,393.3 262.6,396.3 261.2,399.0 260.3,401.3 259.0,403.5 256.8,405.4 254.4,406.9 252.1,409.1 249.9,411.4 247.5,412.2 245.4,413.7 243.0,413.9 240.8,414.8 240.6,417.1 241.6,419.3 241.2,421.7 242.0,423.9 240.3,426.2 238.6,428.5 236.8,430.7 235.2,433.0 232.4,431.8 229.5,430.7 227.1,431.0 225.0,432.4 222.7,433.0 220.7,434.1 219.6,436.4 217.6,437.5 215.6,439.0 213.6,440.6 211.4,441.7 208.8,441.2 206.5,442.4 204.6,444.2 202.1,445.0 200.0,446.5 197.6,447.6 195.1,448.5 193.0,450.2 190.5,451.4 187.8,452.2 184.3,451.0 182.0,450.7 179.6,450.4 177.3,450.1 174.9,449.4 172.6,448.3 170.3,447.4 168.0,446.7 166.4,444.6 164.1,444.0 161.7,444.0 159.3,443.9 156.9,445.0 154.5,444.8 152.2,444.4 149.8,444.3 147.5,444.0 145.2,442.5 143.1,440.6 140.5,439.5 139.1,437.1 137.3,435.1 135.3,433.2 134.0,431.4 131.7,428.0 131.7,426.0 129.1,423.9 127.7,422.4 127.3,418.1 129.1,416.1" fill="none" stroke="#3030ff" stroke-width="1" shape-rendering="crispEdges"/>
<polyline points="107.8,336.8 107.7,339.0 107.7,341.2 108.0,343.5 108.2,345.7 107.8,347.9 109.2,349.9 111.1,351.5 112.5,353.5 113.3,356.7 113.4,360.0 114.4,363.3 116.2,365.7 119.0,366.9 120.6,369.4 122.8,371.4 124.6,373.7 126.8,375.6 127.9,377.8 129.9,379.6 131.0,381.8 131.7,384.3 132.3,386.9 132.5,389.5 133.0,392.1 131.9,394.1 130.4,395.6 128.9,397.3 128.3,399.9 128.9,402.5 126.8,405.6 127.6,408.1 127.9,410.7 126.3,412.3 127.7,415.2 129.1,416.1" fill="none" stroke="#3030ff" stroke-width="1" shape-rendering="crispEdges"/>
<polyline points="170.9,288.6 170.8,291.1 171.1,293.5 170.9,296.0 168.6,296.8 167.0,298.8 165.0,300.0 162.6,300.6 162.5,303.9 161.6,307.1 163.0,308.9 164.3,310.7 165.8,312.4 167.2,314.1 169.1,315.5 171.5,316.6 174.1,317.5 176.5,318.6 179.3,318.3 182.1,318.7 184.8,319.2 186.0,321.4 188.1,322.7 189.5,324.7 190.1,327.0 190.4,329.4 187.6,331.2 186.7,333.9 186.7,336.8" fill="none" stroke="#3030ff" stroke-width="1" shape-rendering="crispEdges"/>
<polyline points="229.2,288.1 229.8,290.6 229.0,293.1 228.7,295.5 229.2,298.0 231.2,300.1 233.3,302.1 236.4,305.2 237.7,307.5 238.8,309.9 239.5,312.5 238.5,316.6 236.6,317.7 235.0,319.3 233.3,320.7 230.2,319.7 227.8,320.4 225.8,322.1 223.5,323.2 221.0,323.8 218.0,325.1 214.8,325.9 212.4,326.4 210.0,326.8 207.5,326.9 209.5,328.6 210.6,331.0 208.6,334.1 205.6,335.3 202.4,336.2 199.9,336.3 197.4,336.6 195.0,337.3 192.5,337.3 190.0,337.2 186.7,336.8" fill="none" stroke="#3030ff" stroke-width="1" shape-rendering="crispEdges"/>
<polyline points="152.4,341.4 155.0,340.0 157.9,339.6 160.1,339.4 162.4,339.3 164.6,339.4 166.8,338.7 169.1,338.7 172.8,337.7 175.1,337.2 177.4,337.3 179.8,337.4 182.1,337.2 184.4,336.8 186.7,336.8" fill="none" stroke="#3030ff" stroke-width="1" shape-rendering="crispEdges"/>
<polyline points="214.8,325.9 214.4,328.3 214.7,330.7 214.8,333.1 217.1,334.1 219.2,335.4 221.0,337.2 223.7,338.6 226.1,340.3 226.7,344.4" fill="none" stroke="#3030ff" stroke-width="1" shape-rendering="crispEdges"/>
<polyline points="226.6,344.2 228.7,345.5 231.0,346.4 233.0,345.2 235.3,344.7 237.6,344.2 240.9,344.6 244.2,344.2 246.5,343.7 248.6,342.9 250.7,342.0 252.9,341.8 255.1,341.4 257.2,340.7 259.5,340.9 261.9,340.3 264.4,340.5 266.8,340.1 269.3,339.9 271.9,340.2 274.4,340.5 277.0,340.9 279.4,341.7 281.5,343.0 283.6,344.2 285.8,346.4" fill="none" stroke="#3030ff" stroke-width="1" shape-rendering="crispEdges"/>
<polyline points="226.6,344.2 224.3,344.8 222.1,345.6 220.1,346.8 217.9,347.5 216.7,349.7 215.7,351.9 213.4,353.7 212.4,356.6 210.2,358.5 207.8,359.6 205.4,360.9 202.9,361.8 200.4,362.8 198.4,364.2 195.9,364.4 194.0,365.9 191.6,366.2 189.4,367.2 187.3,368.6 184.9,369.2 182.8,370.5 180.8,372.0 178.4,373.0 176.4,374.7 174.0,375.6 171.9,377.1 170.0,378.6 169.1,380.8 167.5,382.6 166.4,386.5 166.0,388.8 166.5,391.2 166.4,393.5 168.3,395.0 169.0,397.5 170.8,399.0 173.4,398.4 175.8,397.2 178.5,396.8 181.1,395.8 183.5,394.5 186.1,393.5 188.7,393.5 191.2,392.4 193.8,392.4 196.1,392.2 198.1,390.9 200.5,391.2 202.5,390.2 204.6,389.3 206.9,389.1 209.0,388.2 211.4,388.5 213.6,387.9 215.6,386.3 218.0,386.8 220.1,385.8 222.3,385.3 224.4,384.8 226.7,384.9 228.9,384.6 231.0,383.6 233.4,383.5 235.3,382.0 237.5,381.4 239.8,381.0 242.0,380.4 244.2,379.5 246.5,378.4 248.5,377.1 249.4,374.4 250.8,372.0 251.8,369.4 253.7,367.5 254.8,365.0 256.2,362.8 259.0,363.1 261.7,362.4 263.8,361.4 266.1,362.0 268.3,361.6 270.4,360.7 272.6,360.2 274.9,360.0 276.9,358.6 279.2,358.5 281.3,356.9 283.0,354.9 284.7,353.0 284.3,350.2 283.6,347.5 285.8,346.4" fill="none" stroke="#3030ff" stroke-width="1" shape-rendering="crispEdges"/>
<polyline points="261.7,362.4 261.2,364.7 261.2,367.0 260.8,369.3 260.6,371.6 259.1,373.7 257.9,376.0 256.4,378.1 255.1,380.4 253.7,382.9 251.8,385.1 249.6,386.9 249.0,389.2 247.6,391.2 246.7,393.3 246.3,395.7 244.2,396.7 241.9,396.4 239.9,397.7 237.6,397.9 235.4,398.3 233.2,399.1 230.9,399.2 228.7,399.6 226.7,401.1 224.4,401.2 222.4,402.5 219.9,402.5 218.1,404.3 215.9,405.2 213.5,405.5 211.2,406.6 208.9,407.7 206.9,409.3 204.6,410.6 202.6,412.1 200.3,412.1 198.2,413.0 196.1,414.2 193.8,414.1 191.5,414.5 189.4,415.4 187.1,415.4 185.0,414.6 182.8,414.6 180.7,413.5 178.5,412.9 176.3,412.5 174.2,412.1 171.9,412.1 169.7,411.4 167.5,411.9 165.3,411.8 163.1,411.6 160.9,411.0 158.1,410.7 155.4,411.5 152.7,411.3 150.0,412.1 147.5,413.0 145.3,414.3 143.3,415.9 140.1,415.7 137.0,416.3 134.4,416.6 131.7,415.7 129.1,416.1" fill="none" stroke="#3030ff" stroke-width="1" shape-rendering="crispEdges"/>
<polyline points="128.9,401.4 130.9,402.8 133.2,403.7 135.0,405.3 137.1,406.6 138.2,404.6 139.2,402.5 141.5,401.9 143.3,400.4 145.4,399.4 146.7,397.6 148.5,396.2 150.0,394.6 151.4,392.6 153.6,391.6 155.4,390.1 157.1,388.5 158.8,386.9 161.3,386.5 163.9,387.0 166.4,386.5" fill="none" stroke="#3030ff" stroke-width="1" shape-rendering="crispEdges"/>
<polyline points="137.1,406.6 138.0,408.7 139.6,410.3 140.9,412.1 142.1,414.0 143.3,415.9" fill="none" stroke="#3030ff" stroke-width="1" shape-rendering="crispEdges"/>
<circle cx="119.2" cy="418.4" r="2.6" fill="#40f000"/>
<line x1="382.0" y1="453.5" x2="674.5" y2="453.5" stroke="#3c3c3c" stroke-width="1"/>
<line x1="382.9" y1="263.3" x2="382.9" y2="453.5" stroke="#a0a0a0" stroke-width="1.8"/>
<line x1="382.9" y1="453.5" x2="382.9" y2="450.1" stroke="#555" stroke-width="1"/>
<text transform="translate(382.9 466.4) scale(0.98 1.03)" text-anchor="middle" class="t">-97</text>
<line x1="415.2" y1="453.5" x2="415.2" y2="450.1" stroke="#555" stroke-width="1"/>
<text transform="translate(415.2 466.4) scale(0.98 1.03)" text-anchor="middle" class="t">-96.8</text>
<line x1="447.6" y1="453.5" x2="447.6" y2="450.1" stroke="#555" stroke-width="1"/>
<text transform="translate(447.6 466.4) scale(0.98 1.03)" text-anchor="middle" class="t">-96.6</text>
<line x1="479.9" y1="453.5" x2="479.9" y2="450.1" stroke="#555" stroke-width="1"/>
<text transform="translate(479.9 466.4) scale(0.98 1.03)" text-anchor="middle" class="t">-96.4</text>
<line x1="512.3" y1="453.5" x2="512.3" y2="450.1" stroke="#555" stroke-width="1"/>
<text transform="translate(512.3 466.4) scale(0.98 1.03)" text-anchor="middle" class="t">-96.2</text>
<line x1="544.6" y1="453.5" x2="544.6" y2="450.1" stroke="#555" stroke-width="1"/>
<text transform="translate(544.6 466.4) scale(0.98 1.03)" text-anchor="middle" class="t">-96</text>
<line x1="577.0" y1="453.5" x2="577.0" y2="450.1" stroke="#555" stroke-width="1"/>
<text transform="translate(577.0 466.4) scale(0.98 1.03)" text-anchor="middle" class="t">-95.8</text>
<line x1="609.3" y1="453.5" x2="609.3" y2="450.1" stroke="#555" stroke-width="1"/>
<text transform="translate(609.3 466.4) scale(0.98 1.03)" text-anchor="middle" class="t">-95.6</text>
<line x1="641.7" y1="453.5" x2="641.7" y2="450.1" stroke="#555" stroke-width="1"/>
<text transform="translate(641.7 466.4) scale(0.98 1.03)" text-anchor="middle" class="t">-95.4</text>
<line x1="674.0" y1="453.5" x2="674.0" y2="450.1" stroke="#555" stroke-width="1"/>
<text transform="translate(674.0 466.4) scale(0.98 1.03)" text-anchor="middle" class="t">-95.2</text>
<line x1="382.9" y1="453.5" x2="386.3" y2="453.5" stroke="#999" stroke-width="1"/>
<text transform="translate(379.5 457.7) scale(0.98 1.03)" text-anchor="end" class="t">46.9</text>
<line x1="382.9" y1="426.3" x2="386.3" y2="426.3" stroke="#999" stroke-width="1"/>
<text transform="translate(379.5 430.5) scale(0.98 1.03)" text-anchor="end" class="t">47</text>
<line x1="382.9" y1="399.2" x2="386.3" y2="399.2" stroke="#999" stroke-width="1"/>
<text transform="translate(379.5 403.4) scale(0.98 1.03)" text-anchor="end" class="t">47.1</text>
<line x1="382.9" y1="372.0" x2="386.3" y2="372.0" stroke="#999" stroke-width="1"/>
<text transform="translate(379.5 376.2) scale(0.98 1.03)" text-anchor="end" class="t">47.2</text>
<line x1="382.9" y1="344.8" x2="386.3" y2="344.8" stroke="#999" stroke-width="1"/>
<text transform="translate(379.5 349.0) scale(0.98 1.03)" text-anchor="end" class="t">47.3</text>
<line x1="382.9" y1="317.6" x2="386.3" y2="317.6" stroke="#999" stroke-width="1"/>
<text transform="translate(379.5 321.8) scale(0.98 1.03)" text-anchor="end" class="t">47.4</text>
<line x1="382.9" y1="290.5" x2="386.3" y2="290.5" stroke="#999" stroke-width="1"/>
<text transform="translate(379.5 294.7) scale(0.98 1.03)" text-anchor="end" class="t">47.5</text>
<line x1="382.9" y1="263.3" x2="386.3" y2="263.3" stroke="#999" stroke-width="1"/>
<text transform="translate(379.5 267.5) scale(0.98 1.03)" text-anchor="end" class="t">47.6</text>
<text x="383.0" y="257.7" class="ti">d. 05064000</text>
<text transform="translate(528.5 481.7) scale(1 0.95)" text-anchor="middle" class="l">Longitude [<tspan font-size="8.3" dy="-5.6">o</tspan><tspan dy="5.6">]</tspan></text>
<text transform="translate(356.5 358.4) rotate(-90)" text-anchor="middle" class="l">Latitude [<tspan font-size="8.3" dy="-5.4">o</tspan><tspan dy="5.4">]</tspan></text>
<polygon points="409.2,339.7 411.8,339.7 414.4,339.2 417.1,339.8 419.7,339.4 422.0,339.8 424.3,339.5 426.6,340.1 428.9,340.0 431.5,339.7 434.1,340.4 436.8,340.8 439.4,340.4 443.4,341.7 445.2,343.2 447.3,344.3 449.8,345.8 452.6,346.9 455.3,348.4 457.8,350.2 460.7,351.5 463.1,353.5 467.0,351.5 469.5,350.1 471.6,348.3 473.8,347.5 476.2,347.6 478.4,347.6 480.6,347.9 482.8,347.6 484.6,345.5 486.7,343.7 489.4,343.1 491.6,341.4 493.6,340.3 495.9,339.9 497.8,338.6 499.5,337.0 499.7,334.7 500.9,332.6 501.7,330.5 501.9,328.1 502.3,325.7 503.0,323.4 502.7,320.9 503.0,318.5 503.1,316.1 502.9,313.5 504.4,311.1 503.9,308.5 504.5,306.0 506.7,302.4 508.9,301.7 510.3,298.1 513.9,295.9 516.1,297.3 517.9,298.8 519.0,300.9 521.2,304.5 524.0,306.0 524.7,308.5 525.5,311.0 527.7,313.2 530.5,313.9 533.4,313.9 534.0,311.4 534.1,308.9 534.0,306.3 533.7,303.8 534.9,303.8 535.0,306.4 535.6,308.9 537.8,306.0 540.6,305.3 543.5,302.4 546.4,302.4 549.3,300.2 551.1,298.3 552.2,295.9 553.4,294.0 554.0,291.8 555.5,290.1 558.0,288.0 559.8,285.9 561.6,283.9 564.7,285.5 567.8,286.1 570.9,287.0 572.9,289.6 575.5,291.6 578.6,294.7 578.9,297.3 579.4,299.9 580.2,302.4 582.2,303.6 584.5,304.1 586.4,305.5 588.6,307.2 591.0,308.6 593.1,307.1 595.6,306.5 597.2,303.7 598.7,300.9 601.1,299.2 602.6,296.5 604.9,294.7 607.1,295.8 609.5,296.3 611.1,300.3 613.3,299.5 615.7,299.4 617.7,301.3 620.3,302.4 622.8,300.2 625.0,297.8 626.7,295.8 629.3,295.0 631.2,293.2 633.0,294.6 635.3,295.2 637.3,296.3 639.8,297.4 642.5,297.8 645.1,298.4 648.2,298.4 651.2,299.4 654.3,300.2 657.4,300.9 658.3,303.0 659.3,305.1 660.5,307.1 662.2,309.3 663.6,311.7 664.4,313.9 665.4,316.0 666.7,317.9 665.2,319.7 664.3,321.9 663.6,324.1 661.2,325.2 659.5,327.2 657.4,328.7 655.0,331.8 655.7,334.4 657.4,336.4 657.4,339.1 658.0,341.7 659.0,344.2 658.0,346.3 657.2,348.4 655.9,350.3 654.5,352.5 654.3,355.0 652.5,356.9 651.3,359.2 649.7,361.2 647.8,362.9 646.2,365.0 645.1,367.3 642.0,370.4 641.0,368.3 641.2,365.9 640.3,363.9 639.4,361.8 638.9,359.6 637.3,356.5 636.2,358.8 635.1,361.2 634.3,363.7 632.7,365.8 630.6,363.9 628.1,362.7 625.6,364.0 623.4,365.8 622.3,368.2 620.5,370.1 618.8,372.0 617.0,374.1 615.7,376.6 616.1,379.2 615.1,381.7 615.7,384.3 614.8,387.0 613.8,389.6 612.6,392.1 610.7,393.8 608.8,395.6 606.4,396.7 604.2,399.1 601.8,401.3 600.4,403.1 599.6,405.3 598.8,407.4 597.2,409.1 595.2,411.2 593.3,413.4 591.0,415.2 588.4,414.1 586.4,412.2 585.6,409.1 584.8,406.0 581.7,405.3 578.6,404.4 574.5,403.5 570.4,404.5 569.3,406.3 566.9,406.7 564.5,406.3 563.2,407.6 560.5,407.5 558.0,406.6 553.9,405.6 549.8,405.6 547.6,406.9 545.7,408.7 543.6,410.8 541.5,412.8 541.4,415.0 541.4,417.3 540.9,419.5 540.2,421.6 539.1,423.6 538.8,425.9 537.6,427.8 535.7,430.1 534.3,432.7 533.0,434.7 531.0,436.0 527.7,436.0 526.3,434.2 526.0,431.9 522.7,432.7 521.1,435.2 519.4,437.7 517.6,439.2 516.1,441.0 512.8,441.0 509.5,438.5 506.2,436.8 502.9,434.4 502.8,431.9 502.1,429.4 502.1,426.9 500.0,425.7 498.0,424.5 495.3,423.7 492.4,423.8 489.7,422.8 487.2,422.6 484.7,422.6 482.3,422.0 479.8,422.0 477.3,421.8 474.9,420.7 472.3,421.1 469.9,420.3 467.4,419.0 464.6,419.0 462.0,418.0 461.3,417.0 459.3,415.9 457.3,414.7 455.5,413.4 453.2,411.4 451.2,409.1 448.2,407.9 445.4,406.2 443.0,404.5 440.4,403.3 437.1,402.7 433.9,403.3 431.4,403.5 428.9,404.2 424.7,403.2 423.2,400.8 422.7,398.0 422.1,395.2 420.9,392.6 420.6,389.8 420.0,387.0 419.3,384.3 418.6,381.5 417.4,379.1 417.1,376.5 416.9,374.2 416.2,372.1 415.8,369.9 415.1,367.3 414.5,364.7 414.5,362.0 414.0,359.7 413.3,357.5 413.0,355.2 413.1,352.9 412.1,350.7 411.6,348.4 410.5,346.3 409.7,344.2 409.4,342.0 409.2,339.7" fill="#c0c0c0" stroke="#6e6e6e" stroke-width="1" shape-rendering="crispEdges"/>
<polyline points="409.2,339.7 410.8,337.4 413.1,335.8 415.0,334.3 417.1,333.1 420.4,332.5 421.7,330.2 423.7,331.2 424.3,333.1 423.7,335.8 425.6,338.4 427.6,339.7 427.8,341.9 426.7,344.1 426.9,346.3 428.9,348.0 430.2,350.2 431.9,352.5 434.2,354.2 436.1,355.9 437.5,358.1 438.0,360.7 438.1,363.4 438.1,364.0" fill="none" stroke="#3030ff" stroke-width="1" shape-rendering="crispEdges"/>
<polyline points="409.2,339.7 409.5,341.9 409.8,344.1 410.0,346.3 410.5,348.5 411.3,350.6 411.8,353.0 411.9,355.5 412.8,357.9 413.4,360.3 413.6,362.7 414.4,365.1 415.6,367.3 415.6,370.0 416.5,372.3 417.1,374.7 418.2,377.0 418.6,379.5 419.0,382.0 420.2,384.2 420.4,386.8 420.8,389.3 422.5,391.4 422.7,393.9 423.7,395.9 423.8,398.2 425.6,399.9 426.0,402.1 426.8,404.2 429.1,405.4 430.9,407.3 433.3,409.0 435.0,411.4 438.1,414.5 438.5,417.6 439.2,420.7 440.4,423.5 442.3,425.9 446.4,424.8 446.6,421.7 447.4,418.7 448.0,416.4 449.5,414.5 451.3,415.9 453.6,416.6 455.8,417.3 457.7,418.7 460.8,420.7 461.9,416.6 465.0,413.7 467.6,412.6 470.5,412.3 473.2,411.3 476.5,411.3 478.7,413.0 480.7,414.9 483.1,416.2 484.8,417.9 487.0,415.8 489.7,414.6 492.1,413.6 494.7,412.9 498.0,414.6" fill="none" stroke="#3030ff" stroke-width="1" shape-rendering="crispEdges"/>
<polyline points="425.8,365.1 427.8,363.0 430.5,363.2 433.0,364.0 435.7,364.6 438.5,363.7 441.2,364.0 443.3,367.1 443.3,369.7 442.3,372.2 442.5,374.8 442.3,377.4 443.3,381.5 440.8,380.2 438.1,379.5 435.8,378.3 434.0,376.4 431.2,374.6 428.9,372.3 427.7,370.3 426.9,368.1 425.8,366.1" fill="none" stroke="#3030ff" stroke-width="1" shape-rendering="crispEdges"/>
<polyline points="425.8,374.3 425.1,376.6 425.2,378.9 425.2,381.3 424.7,383.6 424.5,386.2 423.1,388.6 423.4,391.4 422.7,393.9" fill="none" stroke="#3030ff" stroke-width="1" shape-rendering="crispEdges"/>
<polyline points="443.3,367.1 446.1,367.2 448.8,366.8 451.5,366.1 454.0,365.2 456.6,364.7 459.2,364.2 461.9,364.0 464.3,365.4 466.3,367.1 468.0,369.2 471.3,368.6 474.2,367.1 477.4,366.3 480.4,365.1 482.7,366.1 484.6,367.8 486.6,369.2 487.7,371.6 489.5,373.4 490.8,375.7 492.8,377.4 494.8,379.0 496.3,381.1 498.4,382.6 500.0,384.6" fill="none" stroke="#3030ff" stroke-width="1" shape-rendering="crispEdges"/>
<polyline points="438.1,364.0 438.8,361.7 439.4,359.4 441.1,356.6 443.4,354.2 444.7,352.3 445.3,350.2 447.6,349.8 449.9,349.6 452.0,350.8 454.2,351.5 456.5,352.2 459.1,352.6 461.8,352.2 465.7,351.5 466.7,349.2 467.0,346.8 467.0,344.3 468.3,342.6 470.3,343.7 471.0,346.9 472.2,349.1 472.3,351.5 474.0,353.2 476.2,354.2 479.0,354.4 481.5,355.5 483.3,357.6 485.4,359.4 487.5,361.3 489.4,363.4 490.3,365.4 491.4,367.4 491.7,369.7 493.1,371.6 494.1,373.6 495.8,375.4 496.8,377.7 498.2,379.8 498.9,382.1 500.3,383.9 499.3,388.0" fill="none" stroke="#3030ff" stroke-width="1" shape-rendering="crispEdges"/>
<polyline points="442.3,377.4 444.2,378.9 446.0,380.4 447.9,381.9 449.5,383.6 452.0,385.7 454.6,387.7 455.7,391.9 457.5,393.7 459.6,394.9 461.9,396.0 463.3,397.9 464.8,399.7 466.7,401.0 468.1,402.9 470.1,404.2 472.3,405.4 474.3,406.8 476.3,408.4 478.4,409.7 480.2,411.5 482.5,412.5" fill="none" stroke="#3030ff" stroke-width="1" shape-rendering="crispEdges"/>
<polyline points="453.6,387.7 452.5,389.9 451.3,392.1 449.5,393.9 447.5,396.0 445.4,398.0 443.6,399.8 442.3,402.0 441.2,404.2 441.0,406.6 441.1,409.1 442.5,411.9 445.4,413.4 448.3,414.8" fill="none" stroke="#3030ff" stroke-width="1" shape-rendering="crispEdges"/>
<polyline points="452.6,387.4 453.9,384.6 454.8,381.6 456.0,379.5 457.0,377.3 459.8,375.9 462.7,377.3 465.0,378.8 468.0,377.4 470.6,377.5 473.2,377.5 475.8,376.9 478.4,377.4 481.2,377.4 483.9,377.7 486.6,378.5 488.4,380.0 490.5,380.9 492.8,381.5 495.3,382.2 497.7,383.4 500.0,384.6" fill="none" stroke="#3030ff" stroke-width="1" shape-rendering="crispEdges"/>
<polyline points="476.3,383.6 480.4,382.6 482.3,383.7 484.5,384.2 486.7,384.6 488.7,385.7 491.7,386.9 494.8,387.7 496.9,386.7 499.0,385.7" fill="none" stroke="#3030ff" stroke-width="1" shape-rendering="crispEdges"/>
<polyline points="476.5,383.2 475.9,385.9 475.0,388.6 474.9,391.5 475.0,393.7 475.0,396.0 475.7,398.1 476.8,400.5 478.6,402.4 479.8,404.7 480.8,406.7 481.7,408.7 482.5,410.8 483.1,412.9 484.1,415.4 484.8,417.9" fill="none" stroke="#3030ff" stroke-width="1" shape-rendering="crispEdges"/>
<polyline points="494.8,387.7 494.6,390.5 495.5,393.2 495.9,396.0 495.4,398.7 495.2,401.5 494.8,404.2 495.3,407.0 496.5,409.7 496.9,412.5" fill="none" stroke="#3030ff" stroke-width="1" shape-rendering="crispEdges"/>
<polyline points="460.0,376.6 462.5,376.7 464.9,377.2 467.4,377.0 469.9,377.4 472.0,378.4 474.3,378.5 476.5,379.1 478.7,378.3 480.9,377.5 483.1,376.6 484.9,378.0 487.2,378.5 488.9,379.9 490.6,381.9 493.0,383.2 495.6,383.0 498.0,384.0 500.4,385.0 502.9,385.7 505.5,386.7 507.9,388.2 509.8,389.3 512.0,389.8" fill="none" stroke="#3030ff" stroke-width="1" shape-rendering="crispEdges"/>
<polyline points="517.8,377.4 516.2,379.1 516.1,381.6 514.5,383.2 514.4,386.1 513.5,388.8 512.8,391.5 510.1,392.8 507.9,394.8 507.8,397.6 506.7,400.2 506.2,403.0 505.7,405.5 505.5,407.9 505.1,410.4 505.4,412.9 505.3,415.4 505.2,417.9 504.4,420.3 504.6,422.8" fill="none" stroke="#3030ff" stroke-width="1" shape-rendering="crispEdges"/>
<polyline points="499.3,386.0 501.9,385.4 504.4,386.0 506.6,386.7 508.6,387.9 510.6,389.1 512.4,387.0 513.0,384.1 514.7,381.9 516.1,379.7 517.8,377.7 520.0,380.2 521.3,382.3 523.4,383.6 524.4,385.8 525.1,388.1 525.9,390.4 526.8,392.7 529.1,396.1 531.1,398.1 532.5,400.6 534.2,404.0 534.7,405.7" fill="none" stroke="#3030ff" stroke-width="1" shape-rendering="crispEdges"/>
<polyline points="534.7,405.7 536.4,402.9 539.3,400.0 541.0,399.5 542.7,398.3 544.6,396.8 546.1,394.9 547.6,393.2 549.5,392.1 550.6,388.1 553.4,387.6 555.7,385.9 557.4,388.1 558.5,390.3 559.1,392.7 562.5,393.8 564.4,395.4 566.5,396.6 569.3,397.2 570.5,399.5 569.9,403.4 568.2,404.6" fill="none" stroke="#3030ff" stroke-width="1" shape-rendering="crispEdges"/>
<polyline points="526.0,431.9 527.1,433.9 527.7,436.0 531.0,436.0 532.6,434.3 534.3,432.7 534.8,430.2 534.7,427.5 535.3,425.0 535.9,422.4 537.0,419.9 537.7,417.6 538.7,415.4 540.4,412.0 542.7,411.4 544.9,409.7 547.2,406.3 549.5,404.6 551.7,405.7 554.0,405.1 556.3,405.1 559.1,408.0 561.9,407.4 564.2,406.3 564.8,410.2 567.3,409.7 569.9,410.2 569.3,406.3 568.2,404.6" fill="none" stroke="#3030ff" stroke-width="1" shape-rendering="crispEdges"/>
<polyline points="534.7,405.7 533.1,407.5 531.3,409.1 529.1,412.5 528.3,415.1 527.4,417.6 527.7,420.1 527.3,422.5 527.4,425.0 526.8,427.3 526.2,429.6 526.0,431.9" fill="none" stroke="#3030ff" stroke-width="1" shape-rendering="crispEdges"/>
<polyline points="496.3,390.6 496.7,393.1 496.2,395.6 495.8,398.0 495.6,400.5 495.5,403.0 495.5,405.4 496.7,407.6 496.4,410.0 496.4,412.3 497.1,414.6 499.6,417.0 502.9,419.5 503.4,421.7 504.6,423.6 503.7,425.7 502.9,427.8 503.6,430.0 502.9,432.3 503.7,434.4 506.2,436.8 509.5,438.5 512.8,441.0 516.1,441.0 518.1,439.7 519.4,437.7 520.6,434.9 522.7,432.7 526.0,431.9" fill="none" stroke="#3030ff" stroke-width="1" shape-rendering="crispEdges"/>
<polyline points="497.1,391.5 499.4,391.5 501.6,390.9 503.9,390.6 506.2,390.6" fill="none" stroke="#3030ff" stroke-width="1" shape-rendering="crispEdges"/>
<circle cx="415.5" cy="353.9" r="2.6" fill="#40f000"/>
</svg>
</body></html>
